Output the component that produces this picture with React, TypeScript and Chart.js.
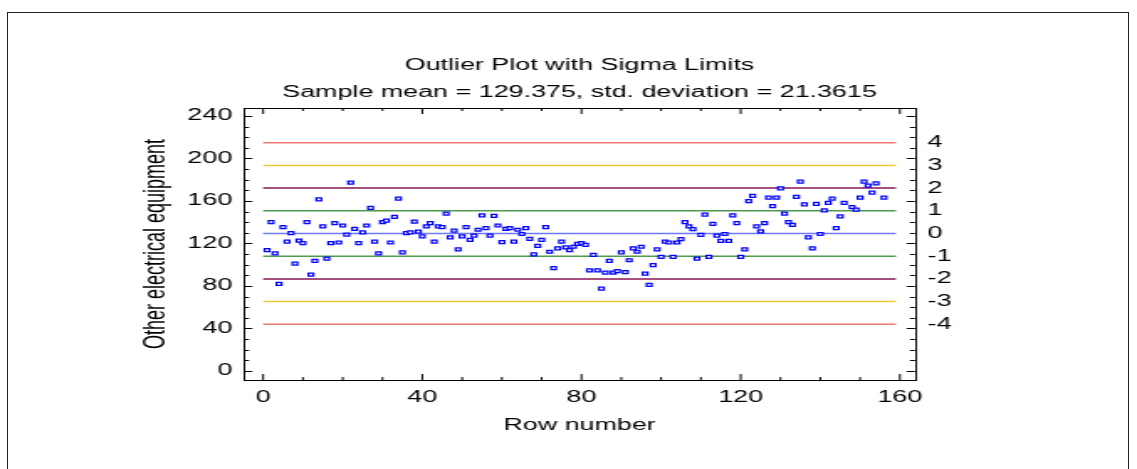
import React, { useEffect, useRef } from "react";
import { Chart, registerables } from "chart.js";

Chart.register(...registerables);

// ---- data ----
const ROW_NUMBERS = [
  1, 2, 3, 4, 5, 6, 7, 8, 9, 10, 11, 12, 13, 14, 15, 16, 17, 18, 19, 20,
  21, 22, 23, 24, 25, 26, 27, 28, 29, 30, 31, 32, 33, 34, 35, 36, 37, 38, 39, 40,
  41, 42, 43, 44, 45, 46, 47, 48, 49, 50, 51, 52, 53, 54, 55, 56, 57, 58, 59, 60,
  61, 62, 63, 64, 65, 66, 67, 68, 69, 70, 71, 72, 73, 74, 75, 76, 77, 78, 79, 80,
  81, 82, 83, 84, 85, 86, 87, 88, 89, 90, 91, 92, 93, 94, 95, 96, 97, 98, 99, 100,
  101, 102, 103, 104, 105, 106, 107, 108, 109, 110, 111, 112, 113, 114, 115, 116, 117, 118, 119, 120,
  121, 122, 123, 124, 125, 126, 127, 128, 129, 130, 131, 132, 133, 134, 135, 136, 137, 138, 139, 140,
  141, 142, 143, 144, 145, 146, 148, 149, 150, 151, 152, 153, 154, 156,
];
const VALUES = [
  113.8, 140.0, 110.7, 82.0, 135.4, 121.8, 129.8, 101.1, 122.7, 120.3, 140.0, 90.7, 103.6, 161.6, 136.0, 105.8, 120.3, 139.1, 120.9, 136.9,
  128.3, 177.3, 133.8, 120.3, 130.4, 136.9, 153.6, 121.8, 110.7, 140.0, 141.6, 120.9, 145.0, 162.2, 111.6, 129.8, 130.4, 140.6, 131.1, 126.7,
  136.0, 139.1, 121.8, 136.0, 135.4, 148.0, 125.8, 132.0, 114.4, 126.7, 135.4, 123.3, 127.4, 132.9, 146.5, 134.5, 127.4, 145.9, 136.9, 121.2,
  133.8, 134.5, 121.8, 132.9, 128.9, 134.5, 124.3, 109.8, 117.8, 123.3, 135.4, 112.2, 96.8, 115.3, 121.8, 116.3, 113.8, 116.9, 119.6, 120.3,
  118.7, 94.7, 109.2, 94.7, 77.4, 92.5, 103.6, 92.5, 94.0, 111.6, 93.1, 104.2, 115.3, 112.2, 116.9, 91.6, 81.1, 99.6, 114.4, 107.3,
  121.8, 120.9, 107.3, 120.9, 124.0, 140.0, 136.0, 133.5, 105.8, 128.0, 147.1, 107.3, 138.5, 127.4, 122.4, 128.9, 122.4, 146.5, 139.1, 107.3,
  114.4, 159.8, 164.7, 136.0, 131.4, 139.1, 163.1, 155.1, 163.1, 171.8, 148.0, 140.0, 137.5, 163.8, 178.3, 156.7, 125.8, 115.3, 157.3, 128.9,
  151.1, 158.2, 162.2, 134.5, 145.4, 158.2, 154.2, 151.8, 163.1, 178.3, 174.4, 167.8, 176.5, 163.1,
];
const SAMPLE_MEAN = 129.375;
const STD_DEV = 21.3615;
const SIGMA_LEVELS = [4, 3, 2, 1, 0, -1, -2, -3, -4];
const SIGMA_COLORS = ["#f27878", "#ecc93c", "#8a1450", "#4f9a4f", "#7078ff", "#4f9a4f", "#8a1450", "#ecc93c", "#f27878"];
const LIMIT_X_RANGE = [0, 159];
const Y_TICKS = [0, 40, 80, 120, 160, 200, 240];
const X_TICKS = [0, 40, 80, 120, 160];
const TITLE = "Outlier Plot with Sigma Limits";
const SUBTITLE = "Sample mean = 129.375, std. deviation = 21.3615";
const Y_TITLE = "Other electrical equipment";
const X_TITLE = "Row number";

// ---- layout (canvas bitmap is stretched horizontally to the page width) ----
const PAGE_W = 1137;
const PAGE_H = 469;
const CANVAS_W = 677;
const SX = PAGE_W / CANVAS_W;
const Y_MIN = -8.5;
const Y_MAX = 247.5;
const X_MIN = -4.8;
const X_MAX = 163.8;
const FONT = "'Liberation Sans', Arial, Helvetica, sans-serif";

const frameTicks = {
  id: "frameTicks",
  afterDraw(chart: any) {
    const { ctx, chartArea: a, scales } = chart;
    const x = scales.x;
    const y = scales.y;
    ctx.save();
    ctx.strokeStyle = "#000";
    ctx.lineWidth = 1;
    ctx.beginPath();
    for (let v = 0; v <= 240; v += 10) {
      const py = Math.round(y.getPixelForValue(v)) + 0.5;
      const len = v % 40 === 0 ? 5 : 3;
      ctx.moveTo(a.left, py);
      ctx.lineTo(a.left + len, py);
      ctx.moveTo(a.right, py);
      ctx.lineTo(a.right - len, py);
    }
    for (let v = 0; v <= 160; v += 10) {
      const px = x.getPixelForValue(v);
      const len = v % 40 === 0 ? 6 : 3;
      ctx.moveTo(px, a.bottom);
      ctx.lineTo(px, a.bottom - len);
      ctx.moveTo(px, a.top);
      ctx.lineTo(px, a.top + len);
    }
    ctx.stroke();
    ctx.strokeRect(Math.round(a.left) + 0.5, Math.round(a.top) + 0.5, Math.round(a.right) - Math.round(a.left), Math.round(a.bottom) - Math.round(a.top));
    ctx.restore();
  },
};

export default function App() {
  const ref = useRef<HTMLCanvasElement>(null);

  useEffect(() => {
    const canvas = ref.current;
    if (!canvas) return;
    Chart.defaults.font.family = FONT;
    const points = ROW_NUMBERS.map((r, i) => ({ x: r, y: VALUES[i] }));
    const limitSets = SIGMA_LEVELS.map((k, i) => {
      const level = SAMPLE_MEAN + k * STD_DEV;
      return {
        type: "scatter" as const,
        data: LIMIT_X_RANGE.map((xv) => ({ x: xv, y: level })),
        showLine: true,
        borderColor: SIGMA_COLORS[i],
        backgroundColor: SIGMA_COLORS[i],
        borderWidth: 1.5,
        pointRadius: 0,
        order: 2,
        yAxisID: "y",
      };
    });
    const chart = new Chart(canvas, {
      type: "scatter",
      data: {
        datasets: [
          {
            data: points,
            pointStyle: "rect",
            pointRadius: 2.1,
            borderColor: "#0000ff",
            backgroundColor: "rgba(255,255,255,1)",
            borderWidth: 1.25,
            showLine: false,
            order: 0,
            yAxisID: "y",
          },
          ...limitSets,
        ],
      },
      options: {
        animation: false,
        responsive: false,
        devicePixelRatio: 1,
        events: [],
        layout: { padding: { top: 42, left: 0, right: 0, bottom: 0 } },
        plugins: {
          legend: { display: false },
          tooltip: { enabled: false },
          title: {
            display: true,
            text: TITLE,
            fullSize: false,
            color: "#000",
            font: { size: 16, weight: "normal", family: FONT },
            padding: { top: 14.4, bottom: 0 },
          },
          subtitle: {
            display: true,
            text: SUBTITLE,
            fullSize: false,
            color: "#000",
            font: { size: 16, weight: "normal", family: FONT },
            padding: { top: 7.8, bottom: 5.4 },
          },
        },
        scales: {
          x: {
            type: "linear",
            position: "bottom",
            min: X_MIN,
            max: X_MAX,
            grid: { display: false, drawTicks: false },
            border: { display: false },
            afterBuildTicks: (s: any) => {
              s.ticks = X_TICKS.map((v) => ({ value: v }));
            },
            afterFit: (s: any) => {
              s.height = PAGE_H - 380;
            },
            ticks: { color: "#000", font: { size: 16 }, padding: 8, maxRotation: 0, autoSkip: false, callback: (v: any) => String(v) },
            title: { display: true, text: X_TITLE, color: "#000", font: { size: 16 }, padding: { top: 0, bottom: 33.5 } },
          },
          y: {
            type: "linear",
            position: "left",
            min: Y_MIN,
            max: Y_MAX,
            grid: { display: false, drawTicks: false },
            border: { display: false },
            afterBuildTicks: (s: any) => {
              s.ticks = Y_TICKS.map((v) => ({ value: v }));
            },
            afterFit: (s: any) => {
              s.width = 244 / SX;
            },
            ticks: { color: "#000", font: { size: 16 }, padding: 7, autoSkip: false, callback: (v: any) => String(v) },
            title: { display: true, text: Y_TITLE, color: "#000", font: { size: 18 }, padding: { top: 82.5, bottom: 0 } },
          },
          y2: {
            type: "linear",
            position: "right",
            min: (Y_MIN - SAMPLE_MEAN) / STD_DEV,
            max: (Y_MAX - SAMPLE_MEAN) / STD_DEV,
            grid: { display: false, drawTicks: false },
            border: { display: false },
            afterBuildTicks: (s: any) => {
              s.ticks = SIGMA_LEVELS.map((v) => ({ value: v }));
            },
            afterFit: (s: any) => {
              s.width = CANVAS_W - 915 / SX;
            },
            ticks: { color: "#000", font: { size: 16 }, padding: 7.5, autoSkip: false, callback: (v: any) => String(v) },
          },
        },
      },
      plugins: [frameTicks],
    } as any);
    return () => chart.destroy();
  }, []);

  return (
    <div style={{ position: "absolute", left: 0, top: 0, width: PAGE_W, height: PAGE_H, overflow: "hidden", background: "#fff" }}>
      <div
        style={{
          position: "absolute",
          left: 7,
          top: 12,
          width: 1122,
          height: 480,
          border: "1px solid #222",
          boxSizing: "border-box",
        }}
      />
      <canvas
        ref={ref}
        width={CANVAS_W}
        height={PAGE_H}
        style={{ position: "absolute", left: 0, top: 0, width: PAGE_W + "px", height: PAGE_H + "px" }}
      />
    </div>
  );
}
